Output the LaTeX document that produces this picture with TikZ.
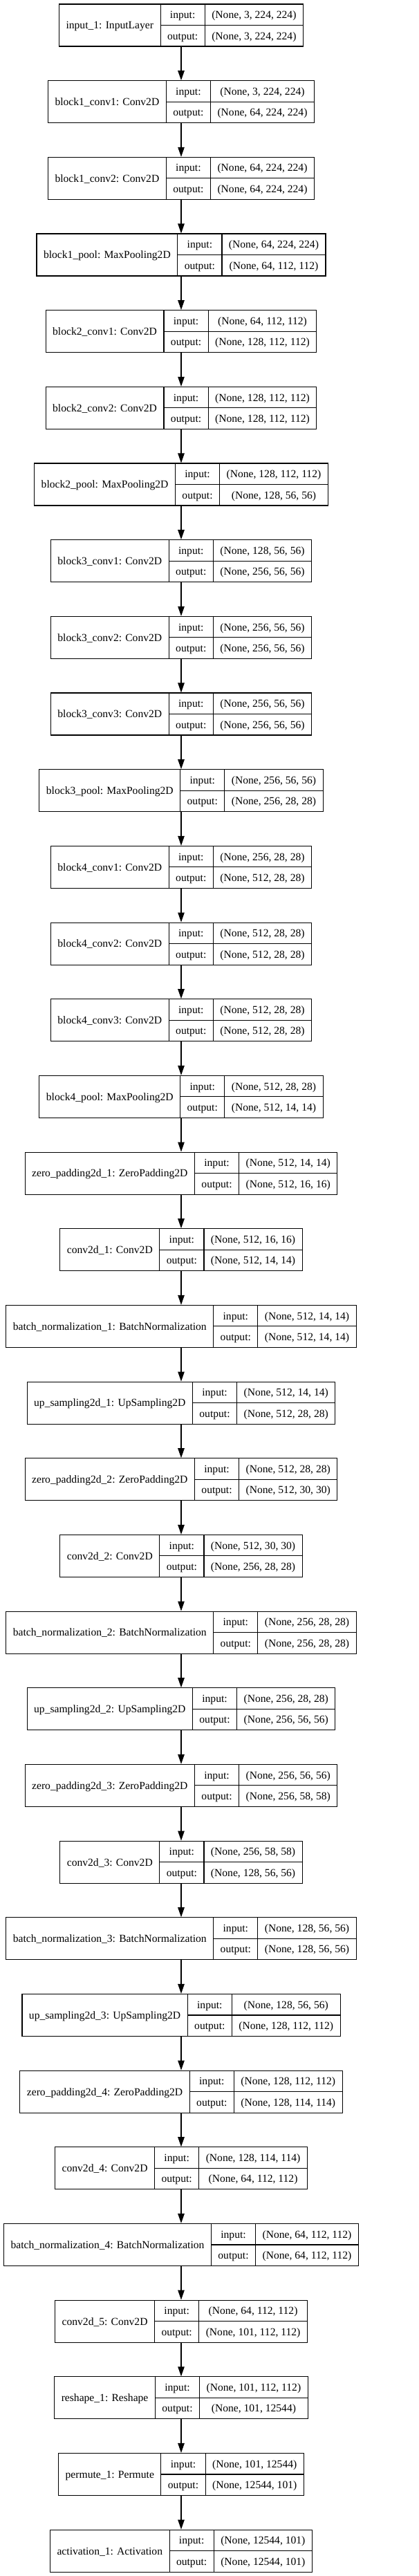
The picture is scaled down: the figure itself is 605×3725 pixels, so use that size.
\documentclass[tikz,border=0pt]{standalone}
\usepackage{fontspec}
\setmainfont{Liberation Serif}
\usetikzlibrary{arrows.meta}

\newcommand\layerfont{\fontsize{15.6}{18}\selectfont}
\newsavebox\recbox
\newdimen\wname \newdimen\wio \newdimen\wshape \newdimen\wtmp

\tikzset{
  recbox/.style={draw, line width=1.1pt, minimum height=61pt, inner sep=0pt},
  recline/.style={line width=1.1pt},
  rectext/.style={font=\layerfont, inner sep=0pt, text height=12.4pt, text depth=1.6pt},
  edge/.style={line width=1.1pt, -{Triangle[length=14pt,width=9.5pt]}}
}

% one layer record: node name, row, label, input shape, output shape
\newcommand\layerrec[5]{%
  \pgfinterruptpicture
    \sbox\recbox{\normalfont\layerfont #3}\global\wname=\wd\recbox
    \sbox\recbox{\normalfont\layerfont output:}\global\wio=\wd\recbox
    \sbox\recbox{\normalfont\layerfont #4}\global\wshape=\wd\recbox
    \sbox\recbox{\normalfont\layerfont #5}\global\wtmp=\wd\recbox
    \ifdim\wtmp>\wshape \global\wshape=\wtmp\fi
  \endpgfinterruptpicture
  \pgfmathsetmacro\xa{262-(\wname+\wio+\wshape+60)/2}
  \pgfmathsetmacro\xb{\xa+\wname+20}
  \pgfmathsetmacro\xc{\xb+\wio+20}
  \pgfmathsetmacro\xd{\xc+\wshape+20}
  \pgfmathsetmacro\recw{\xd-\xa}
  \pgfmathsetmacro\yc{-36.5-110.67*#2}
  \pgfmathsetmacro\yt{\yc+30.5}
  \pgfmathsetmacro\yb{\yc-30.5}
  \pgfmathsetmacro\yi{\yc+15.25}
  \pgfmathsetmacro\yo{\yc-15.25}
  \pgfmathsetmacro\xn{(\xa+\xb)/2}
  \pgfmathsetmacro\xm{(\xb+\xc)/2}
  \pgfmathsetmacro\xs{(\xc+\xd)/2}
  \node[recbox, minimum width=\recw pt] (#1) at (262pt,\yc pt) {};
  \draw[recline] (\xb pt,\yt pt) -- (\xb pt,\yb pt);
  \draw[recline] (\xc pt,\yt pt) -- (\xc pt,\yb pt);
  \draw[recline] (\xb pt,\yc pt) -- (\xd pt,\yc pt);
  \node[rectext] (#1-name) at (\xn pt,\yc pt) {#3};
  \node[rectext] (#1-inl) at (\xm pt,\yi pt) {input:};
  \node[rectext] (#1-outl) at (\xm pt,\yo pt) {output:};
  \node[rectext] (#1-in) at (\xs pt,\yi pt) {#4};
  \node[rectext] (#1-out) at (\xs pt,\yo pt) {#5};
}

\begin{document}
\begin{tikzpicture}
  \useasboundingbox (0,0) rectangle (605pt,-3725pt);

  \layerrec{input1}{0}{input\_1: InputLayer}{(None, 3, 224, 224)}{(None, 3, 224, 224)}
  \layerrec{b1conv1}{1}{block1\_conv1: Conv2D}{(None, 3, 224, 224)}{(None, 64, 224, 224)}
  \layerrec{b1conv2}{2}{block1\_conv2: Conv2D}{(None, 64, 224, 224)}{(None, 64, 224, 224)}
  \layerrec{b1pool}{3}{block1\_pool: MaxPooling2D}{(None, 64, 224, 224)}{(None, 64, 112, 112)}
  \layerrec{b2conv1}{4}{block2\_conv1: Conv2D}{(None, 64, 112, 112)}{(None, 128, 112, 112)}
  \layerrec{b2conv2}{5}{block2\_conv2: Conv2D}{(None, 128, 112, 112)}{(None, 128, 112, 112)}
  \layerrec{b2pool}{6}{block2\_pool: MaxPooling2D}{(None, 128, 112, 112)}{(None, 128, 56, 56)}
  \layerrec{b3conv1}{7}{block3\_conv1: Conv2D}{(None, 128, 56, 56)}{(None, 256, 56, 56)}
  \layerrec{b3conv2}{8}{block3\_conv2: Conv2D}{(None, 256, 56, 56)}{(None, 256, 56, 56)}
  \layerrec{b3conv3}{9}{block3\_conv3: Conv2D}{(None, 256, 56, 56)}{(None, 256, 56, 56)}
  \layerrec{b3pool}{10}{block3\_pool: MaxPooling2D}{(None, 256, 56, 56)}{(None, 256, 28, 28)}
  \layerrec{b4conv1}{11}{block4\_conv1: Conv2D}{(None, 256, 28, 28)}{(None, 512, 28, 28)}
  \layerrec{b4conv2}{12}{block4\_conv2: Conv2D}{(None, 512, 28, 28)}{(None, 512, 28, 28)}
  \layerrec{b4conv3}{13}{block4\_conv3: Conv2D}{(None, 512, 28, 28)}{(None, 512, 28, 28)}
  \layerrec{b4pool}{14}{block4\_pool: MaxPooling2D}{(None, 512, 28, 28)}{(None, 512, 14, 14)}
  \layerrec{zpad1}{15}{zero\_padding2d\_1: ZeroPadding2D}{(None, 512, 14, 14)}{(None, 512, 16, 16)}
  \layerrec{conv1}{16}{conv2d\_1: Conv2D}{(None, 512, 16, 16)}{(None, 512, 14, 14)}
  \layerrec{bnorm1}{17}{batch\_normalization\_1: BatchNormalization}{(None, 512, 14, 14)}{(None, 512, 14, 14)}
  \layerrec{upsamp1}{18}{up\_sampling2d\_1: UpSampling2D}{(None, 512, 14, 14)}{(None, 512, 28, 28)}
  \layerrec{zpad2}{19}{zero\_padding2d\_2: ZeroPadding2D}{(None, 512, 28, 28)}{(None, 512, 30, 30)}
  \layerrec{conv2}{20}{conv2d\_2: Conv2D}{(None, 512, 30, 30)}{(None, 256, 28, 28)}
  \layerrec{bnorm2}{21}{batch\_normalization\_2: BatchNormalization}{(None, 256, 28, 28)}{(None, 256, 28, 28)}
  \layerrec{upsamp2}{22}{up\_sampling2d\_2: UpSampling2D}{(None, 256, 28, 28)}{(None, 256, 56, 56)}
  \layerrec{zpad3}{23}{zero\_padding2d\_3: ZeroPadding2D}{(None, 256, 56, 56)}{(None, 256, 58, 58)}
  \layerrec{conv3}{24}{conv2d\_3: Conv2D}{(None, 256, 58, 58)}{(None, 128, 56, 56)}
  \layerrec{bnorm3}{25}{batch\_normalization\_3: BatchNormalization}{(None, 128, 56, 56)}{(None, 128, 56, 56)}
  \layerrec{upsamp3}{26}{up\_sampling2d\_3: UpSampling2D}{(None, 128, 56, 56)}{(None, 128, 112, 112)}
  \layerrec{zpad4}{27}{zero\_padding2d\_4: ZeroPadding2D}{(None, 128, 112, 112)}{(None, 128, 114, 114)}
  \layerrec{conv4}{28}{conv2d\_4: Conv2D}{(None, 128, 114, 114)}{(None, 64, 112, 112)}
  \layerrec{bnorm4}{29}{batch\_normalization\_4: BatchNormalization}{(None, 64, 112, 112)}{(None, 64, 112, 112)}
  \layerrec{conv5}{30}{conv2d\_5: Conv2D}{(None, 64, 112, 112)}{(None, 101, 112, 112)}
  \layerrec{reshape1}{31}{reshape\_1: Reshape}{(None, 101, 112, 112)}{(None, 101, 12544)}
  \layerrec{permute1}{32}{permute\_1: Permute}{(None, 101, 12544)}{(None, 12544, 101)}
  \layerrec{activ1}{33}{activation\_1: Activation}{(None, 12544, 101)}{(None, 12544, 101)}

  \foreach \a/\b in {input1/b1conv1, b1conv1/b1conv2, b1conv2/b1pool, b1pool/b2conv1,
      b2conv1/b2conv2, b2conv2/b2pool, b2pool/b3conv1, b3conv1/b3conv2, b3conv2/b3conv3,
      b3conv3/b3pool, b3pool/b4conv1, b4conv1/b4conv2, b4conv2/b4conv3, b4conv3/b4pool,
      b4pool/zpad1, zpad1/conv1, conv1/bnorm1, bnorm1/upsamp1, upsamp1/zpad2, zpad2/conv2,
      conv2/bnorm2, bnorm2/upsamp2, upsamp2/zpad3, zpad3/conv3, conv3/bnorm3, bnorm3/upsamp3,
      upsamp3/zpad4, zpad4/conv4, conv4/bnorm4, bnorm4/conv5, conv5/reshape1,
      reshape1/permute1, permute1/activ1}
    \draw[edge] (\a.south) -- (\b.north);
\end{tikzpicture}
\end{document}
